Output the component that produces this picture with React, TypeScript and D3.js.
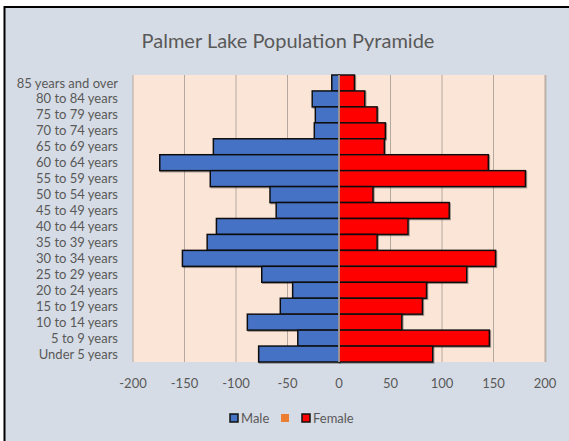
import React from "react";
import * as d3 from "d3";

const categories = [
  "85 years and over",
  "80 to 84 years",
  "75 to 79 years",
  "70 to 74 years",
  "65 to 69 years",
  "60 to 64 years",
  "55 to 59 years",
  "50 to 54 years",
  "45 to 49 years",
  "40 to 44 years",
  "35 to 39 years",
  "30 to 34 years",
  "25 to 29 years",
  "20 to 24 years",
  "15 to 19 years",
  "10 to 14 years",
  "5 to 9 years",
  "Under 5 years",
];
const maleValues = [-7, -26, -23, -24, -122, -174, -125, -67, -61, -119, -128, -152, -75, -45, -57, -89, -40, -78];
const femaleValues = [15, 25, 37, 45, 44, 145, 181, 33, 107, 67, 37, 152, 124, 85, 81, 61, 146, 91];
const xTicks = [-200, -150, -100, -50, 0, 50, 100, 150, 200];
const legendItems = [
  { name: "Male", color: "#4472C4", border: true },
  { name: "", color: "#ED7D31", border: false },
  { name: "Female", color: "#FF0000", border: true },
];
const title = "Palmer Lake Population Pyramide";

const W = 569;
const H = 441;
const plot = { left: 133, right: 545, top: 75, bottom: 362 };
const font = "Lato, 'Open Sans', sans-serif";
const textColor = "#595959";

export default function App() {
  const x = d3.scaleLinear().domain([-200, 200]).range([plot.left, plot.right]);
  const y = d3
    .scaleBand<string>()
    .domain(categories)
    .range([plot.top, plot.bottom])
    .padding(0);
  const bh = y.bandwidth();

  return (
    <svg
      width={W}
      height={H}
      style={{ position: "absolute", left: 0, top: 0, display: "block" }}
    >
      <defs>
        <filter id="shadow" x="-10%" y="-20%" width="130%" height="160%">
          <feDropShadow dx="1" dy="1" stdDeviation="0.6" floodColor="#000" floodOpacity="0.35" />
        </filter>
      </defs>
      <rect x={0} y={0} width={W} height={H} fill="#ffffff" />
      <rect x={4.5} y={7} width={W + 20} height={H + 20} fill="#D6DCE5" stroke="#000" strokeWidth={2} />
      <text
        x={288}
        y={48}
        textAnchor="middle"
        fontFamily={font}
        fontSize={20}
        fill={textColor}
      >
        {title}
      </text>
      {/* plot area */}
      <rect
        x={plot.left + 1.5}
        y={plot.top}
        width={plot.right - plot.left}
        height={plot.bottom - plot.top}
        fill="#BFB8B2"
      />
      <rect
        x={plot.left}
        y={plot.top}
        width={plot.right - plot.left}
        height={plot.bottom - plot.top}
        fill="#FBE5D6"
      />
      {xTicks.map((t) => (
        <line
          key={"g" + t}
          x1={x(t)}
          x2={x(t)}
          y1={plot.top}
          y2={plot.bottom}
          stroke="#B5A89E"
          strokeWidth={1}
        />
      ))}
      {categories.map((c, i) => (
        <g key={c}>
          <rect
            x={x(maleValues[i])}
            y={y(c)}
            width={x(0) - x(maleValues[i])}
            height={bh}
            fill="#4472C4"
            stroke="#111"
            strokeWidth={1.5}
            filter="url(#shadow)"
          />
          <rect
            x={x(0)}
            y={y(c)}
            width={x(femaleValues[i]) - x(0)}
            height={bh}
            fill="#FF0000"
            stroke="#111"
            strokeWidth={1.5}
            filter="url(#shadow)"
          />
        </g>
      ))}
      <line x1={x(0)} x2={x(0)} y1={plot.top} y2={plot.bottom} stroke="#E8E8E8" strokeWidth={1.2} />
      {categories.map((c) => (
        <text
          key={"l" + c}
          x={118}
          y={(y(c) as number) + bh / 2}
          dy="0.35em"
          textAnchor="end"
          fontFamily={font}
          fontSize={13}
          fill={textColor}
        >
          {c}
        </text>
      ))}
      {xTicks.map((t) => (
        <text
          key={"t" + t}
          x={x(t)}
          y={383}
          dy="0.35em"
          textAnchor="middle"
          fontFamily={font}
          fontSize={13}
          fill={textColor}
        >
          {String(t)}
        </text>
      ))}
      {/* legend */}
      {(() => {
        const xs = [230, 281, 302];
        return legendItems.map((it, i) => (
          <g key={"lg" + i}>
            <rect
              x={xs[i]}
              y={414}
              width={8}
              height={8}
              fill={it.color}
              stroke={it.border ? "#111" : "none"}
              strokeWidth={1.5}
            />
            {it.name && (
              <text
                x={xs[i] + 11}
                y={418}
                dy="0.35em"
                fontFamily={font}
                fontSize={13}
                fill={textColor}
              >
                {it.name}
              </text>
            )}
          </g>
        ));
      })()}
    </svg>
  );
}
